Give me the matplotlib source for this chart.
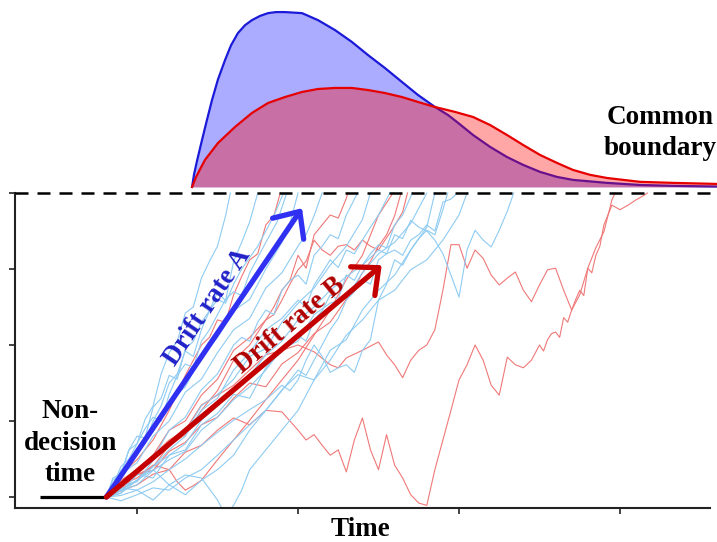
import matplotlib
matplotlib.use("Agg")
import matplotlib.pyplot as plt
import numpy as np

# ---------------- data ----------------
# time axis (arbitrary units, unlabeled ticks at 1..4); evidence axis (start 0, boundary 4)
x_ticks = [1, 2, 3, 4]
y_ticks = [0, 1, 2, 3, 4]
boundary = 4.0
t0 = 0.81            # end of non-decision time (start of accumulation)
ndt_start = 0.40     # left end of the non-decision time bar

# RT densities (relative heights, peak of A = 1)
dens_A_t = [1.342, 1.354, 1.373, 1.404, 1.435, 1.466, 1.503, 1.547, 1.584, 1.627, 1.671, 1.714,
            1.764, 1.814, 1.863, 1.919, 2.025, 2.124, 2.230, 2.335, 2.435, 2.540, 2.646, 2.745,
            2.851, 2.932, 2.988, 3.087, 3.193, 3.298, 3.398, 3.503, 3.609, 3.708, 3.919, 4.124,
            4.329, 4.602]
dens_A = [0.0, 0.07, 0.15, 0.269, 0.385, 0.497, 0.615, 0.726, 0.81, 0.88, 0.925, 0.954,
          0.978, 0.994, 1.0, 1.0, 0.994, 0.954, 0.897, 0.829, 0.754, 0.680, 0.600, 0.526,
          0.457, 0.411, 0.371, 0.297, 0.229, 0.171, 0.126, 0.086, 0.057, 0.040, 0.023, 0.011,
          0.006, 0.002]
dens_B_t = [1.342, 1.366, 1.391, 1.422, 1.503, 1.609, 1.714, 1.814, 1.919, 2.025, 2.124, 2.230,
            2.335, 2.435, 2.540, 2.646, 2.745, 2.851, 2.975, 3.087, 3.193, 3.298, 3.398, 3.503,
            3.609, 3.708, 3.814, 3.919, 4.124, 4.329, 4.602]
dens_B = [0.0, 0.055, 0.10, 0.154, 0.251, 0.343, 0.423, 0.480, 0.514, 0.543, 0.560, 0.566,
          0.566, 0.554, 0.537, 0.514, 0.486, 0.457, 0.429, 0.400, 0.354, 0.297, 0.240, 0.183,
          0.137, 0.097, 0.069, 0.051, 0.029, 0.023, 0.017]
dens_base = 4.08
dens_height = 2.30

# sample paths, condition A (blue)
blue_paths = [
    ([0.81, 0.85, 0.9, 0.95, 1.0, 1.05, 1.1, 1.15, 1.2, 1.25, 1.3, 1.35, 1.4, 1.45, 1.5, 1.55, 1.58],
     [0, 0.22, 0.30, 0.62, 0.70, 1.02, 1.20, 1.62, 1.90, 2.05, 2.42, 2.50, 2.88, 3.10, 3.30, 3.70, 4.0]),
    ([0.81, 0.85, 0.9, 0.95, 1.0, 1.05, 1.1, 1.15, 1.2, 1.25, 1.3, 1.35, 1.4, 1.45, 1.5, 1.55, 1.6,
      1.65, 1.7, 1.75],
     [0, 0.10, 0.32, 0.40, 0.64, 0.72, 1.00, 1.20, 1.50, 1.62, 1.92, 1.85, 2.20, 2.45, 2.70, 2.58,
      3.10, 3.35, 3.62, 4.0]),
    ([0.81, 0.85, 0.9, 0.95, 1.0, 1.05, 1.1, 1.15, 1.2, 1.25, 1.3, 1.35, 1.4, 1.45, 1.5, 1.55, 1.6,
      1.65, 1.7, 1.75, 1.8, 1.85, 1.91],
     [0, 0.25, 0.30, 0.62, 0.80, 0.78, 1.18, 1.30, 1.60, 1.55, 1.95, 2.05, 2.30, 2.45, 2.60, 2.55,
      2.80, 3.00, 3.15, 3.30, 3.50, 3.70, 4.0]),
    ([0.81, 0.85, 0.9, 0.95, 1.0, 1.05, 1.1, 1.15, 1.2, 1.25, 1.3, 1.35, 1.4, 1.45, 1.5, 1.55, 1.6,
      1.65, 1.7, 1.75, 1.8, 1.87, 1.93],
     [0, 0.15, 0.40, 0.50, 0.70, 0.90, 1.05, 1.00, 1.35, 1.60, 1.75, 1.70, 2.05, 2.20, 2.40, 2.60,
      2.70, 2.65, 2.95, 3.15, 3.35, 3.62, 4.0]),
    ([0.81, 0.9, 1.0, 1.1, 1.2, 1.3, 1.4, 1.5, 1.6, 1.7, 1.8, 1.9, 1.95, 2.0],
     [0, 0.35, 0.55, 0.95, 1.25, 1.45, 1.85, 2.10, 2.45, 2.60, 3.00, 3.35, 3.60, 4.0]),
    ([0.81, 0.9, 1.0, 1.1, 1.2, 1.3, 1.4, 1.5, 1.6, 1.7, 1.8, 1.9, 2.0, 2.05, 2.1, 2.15],
     [0, 0.30, 0.45, 0.80, 1.00, 1.38, 1.55, 1.90, 2.20, 2.35, 2.75, 2.95, 3.30, 3.45, 3.70, 4.0]),
    ([0.81, 0.9, 1.0, 1.1, 1.2, 1.3, 1.4, 1.5, 1.6, 1.65, 1.7, 1.75, 1.8, 1.85, 1.9, 1.95, 2.0,
      2.05, 2.1, 2.15, 2.2, 2.25, 2.3, 2.37],
     [0, 0.12, 0.36, 0.50, 0.88, 1.05, 1.41, 1.62, 2.0, 2.10, 2.05, 2.30, 2.46, 2.40, 2.72, 2.85,
      2.92, 2.80, 3.18, 3.30, 3.45, 3.40, 3.71, 4.0]),
    ([0.81, 0.9, 1.0, 1.1, 1.2, 1.3, 1.4, 1.5, 1.6, 1.7, 1.8, 1.9, 2.0, 2.1, 2.2, 2.3, 2.4, 2.45],
     [0, 0.15, 0.20, 0.48, 0.70, 0.85, 1.20, 1.35, 1.55, 1.85, 1.95, 2.30, 2.55, 2.75, 3.05, 3.30,
      3.65, 4.0]),
    ([0.81, 0.9, 1.0, 1.1, 1.2, 1.3, 1.4, 1.5, 1.6, 1.7, 1.8, 1.9, 2.0, 2.05, 2.1, 2.15, 2.2, 2.25,
      2.3, 2.35, 2.4, 2.45, 2.5, 2.57],
     [0, 0.05, 0.22, 0.40, 0.62, 0.80, 1.14, 1.30, 1.67, 1.90, 2.20, 2.35, 2.59, 2.50, 2.79, 2.95,
      3.12, 3.02, 3.25, 3.20, 3.38, 3.55, 3.71, 4.0]),
    ([0.81, 0.9, 1.0, 1.1, 1.2, 1.3, 1.4, 1.5, 1.6, 1.7, 1.8, 1.9, 2.0, 2.05, 2.1, 2.15, 2.2, 2.25,
      2.3, 2.35, 2.4, 2.45, 2.5, 2.55, 2.6, 2.65, 2.71],
     [0, 0.08, 0.16, 0.35, 0.49, 0.60, 0.88, 1.05, 1.28, 1.45, 1.67, 1.95, 2.13, 2.05, 2.33, 2.45,
      2.66, 2.60, 2.92, 2.85, 3.05, 3.20, 3.32, 3.28, 3.58, 3.71, 4.0]),
    ([0.81, 0.9, 1.0, 1.1, 1.2, 1.3, 1.4, 1.5, 1.6, 1.7, 1.8, 1.9, 2.0, 2.1, 2.2, 2.3, 2.4, 2.5,
      2.6, 2.7, 2.8],
     [0, 0.05, 0.30, 0.25, 0.55, 0.62, 0.95, 1.10, 1.35, 1.30, 1.70, 1.95, 2.05, 2.40, 2.55, 2.62,
      2.95, 3.20, 3.35, 3.60, 4.0]),
    ([0.81, 0.9, 1.0, 1.1, 1.2, 1.3, 1.4, 1.5, 1.6, 1.7, 1.8, 1.9, 1.95, 2.0, 2.05, 2.1, 2.15, 2.2,
      2.25, 2.3, 2.35, 2.4, 2.45, 2.5, 2.55, 2.6, 2.65, 2.7, 2.75, 2.8, 2.85, 2.9, 2.93],
     [0, 0.02, 0.09, 0.20, 0.36, 0.50, 0.68, 0.85, 1.01, 1.15, 1.28, 1.47, 1.40, 1.54, 1.80, 2.0,
      1.85, 1.64, 1.70, 1.74, 1.64, 1.93, 2.07, 2.59, 2.80, 3.12, 3.05, 3.25, 3.40, 3.51, 3.45,
      3.78, 4.0]),
    ([0.81, 0.9, 1.0, 1.1, 1.2, 1.3, 1.4, 1.5, 1.6, 1.7, 1.8, 1.9, 2.0, 2.05, 2.1, 2.15, 2.2, 2.25,
      2.3, 2.35, 2.4, 2.45, 2.5, 2.55, 2.6, 2.65, 2.7, 2.75, 2.8, 2.85, 2.9, 2.95, 2.99],
     [0, -0.05, 0.03, 0.12, 0.09, 0.25, 0.36, 0.55, 0.75, 0.95, 1.14, 1.40, 1.67, 1.60, 1.80, 2.00,
      2.20, 2.35, 2.59, 2.70, 2.86, 2.80, 3.12, 3.20, 3.25, 3.18, 3.38, 3.45, 3.58, 3.50, 3.88,
      3.92, 4.0]),
    ([0.81, 0.9, 1.0, 1.1, 1.2, 1.3, 1.4, 1.5, 1.6, 1.7, 1.8, 1.9, 2.0, 2.1, 2.2, 2.3, 2.4, 2.5,
      2.55, 2.6, 2.65, 2.7, 2.75, 2.8, 2.85, 2.9, 2.95, 3.0, 3.05, 3.1, 3.15, 3.2, 3.25, 3.3, 3.34],
     [0, 0.10, 0.22, 0.40, 0.55, 0.70, 1.01, 1.20, 1.41, 1.60, 1.87, 2.05, 2.33, 2.50, 2.72, 2.90,
      3.05, 3.25, 3.20, 3.45, 3.40, 3.64, 3.55, 3.50, 3.38, 3.20, 2.92, 2.63, 3.25, 3.51, 3.38,
      3.29, 3.51, 3.76, 4.0]),
    ([0.81, 0.9, 1.0, 1.1, 1.2, 1.3, 1.4, 1.5, 1.6, 1.7, 1.8, 1.9, 2.0, 2.1, 2.2, 2.3, 2.4, 2.5,
      2.6, 2.7, 2.75, 2.8, 2.85],
     [0, 0.12, 0.09, -0.04, 0.16, 0.03, 0.22, 0.36, 0.55, 0.88, 1.14, 1.41, 1.61, 1.54, 1.93, 2.07,
      2.46, 2.72, 2.92, 3.25, 3.40, 3.55, 4.0]),
    ([0.81, 0.9, 1.0, 1.1, 1.2, 1.3, 1.4, 1.5, 1.55, 1.6, 1.65, 1.7, 1.8, 1.9, 2.0, 2.1, 2.2, 2.3,
      2.4, 2.5, 2.6, 2.7, 2.8, 2.9, 3.0, 3.05],
     [0, 0.09, 0.22, 0.36, 0.16, 0.29, 0.25, -0.04, -0.24, -0.11, 0.09, 0.36, 0.62, 0.88, 1.14,
      1.54, 1.80, 2.13, 2.33, 2.59, 2.72, 2.99, 3.12, 3.38, 3.71, 4.0]),
]

# sample paths, condition B (red)
red_paths = [
    ([0.81, 0.9, 1.0, 1.1, 1.2, 1.3, 1.4, 1.5, 1.6, 1.7, 1.8, 1.9, 2.0, 2.05, 2.1, 2.15, 2.2, 2.25, 2.3,
      2.35, 2.4, 2.45, 2.5, 2.55, 2.6, 2.65, 2.7, 2.75, 2.8, 2.85, 2.9, 2.95, 3.0, 3.05, 3.1, 3.15,
      3.2, 3.25, 3.3, 3.35, 3.4, 3.45, 3.5, 3.525, 3.55, 3.575, 3.6, 3.625, 3.65, 3.675, 3.7, 3.725,
      3.75, 3.775, 3.8, 3.825, 3.85, 3.875, 3.9, 3.95, 4.0, 4.05, 4.1, 4.15, 4.17],
     [0, 0.16, 0.25, 0.42, 0.36, 0.59, 0.68, 0.88, 1.04, 0.95, 1.14, 1.12, 0.88, 0.75, 0.82, 0.68,
      0.55, 0.62, 0.33, 0.75, 1.04, 0.62, 0.36, 0.82, 0.42, 0.25, 0.03, -0.08, -0.11, 0.36, 0.75,
      1.14, 1.54, 1.74, 2.0, 1.80, 1.47, 1.34, 1.84, 1.74, 1.70, 1.80, 2.0, 1.92, 2.07, 2.15, 2.17,
      2.10, 2.36, 2.30, 2.46, 2.60, 2.72, 2.65, 3.01, 2.95, 3.18, 3.30, 3.58, 3.84, 3.78, 3.84,
      3.91, 3.97, 4.0]),
    ([0.81, 0.9, 1.0, 1.1, 1.2, 1.3, 1.4, 1.5, 1.6, 1.7, 1.8, 1.9, 2.0, 2.1, 2.2, 2.25, 2.3, 2.4,
      2.5, 2.55, 2.6, 2.65, 2.7, 2.75, 2.8, 2.85, 2.9, 2.95, 3.0, 3.05, 3.1, 3.15, 3.2, 3.25, 3.3,
      3.35, 3.4, 3.45, 3.5, 3.55, 3.6, 3.65, 3.7, 3.75, 3.8, 3.85, 3.9, 3.95, 3.97],
     [0, 0.22, 0.36, 0.55, 0.75, 0.88, 1.21, 1.34, 1.47, 1.67, 1.87, 1.93, 2.0, 1.91, 1.74, 1.70,
      1.83, 1.93, 2.04, 1.87, 1.74, 1.57, 1.80, 1.93, 2.0, 2.20, 2.72, 3.32, 3.32, 3.01, 3.25, 3.14,
      2.92, 2.79, 2.88, 2.96, 2.72, 2.57, 2.79, 2.99, 3.01, 2.72, 2.46, 2.66, 3.01, 3.28, 3.49,
      3.91, 4.0]),
    ([0.81, 0.9, 1.0, 1.1, 1.2, 1.3, 1.4, 1.5, 1.6, 1.7, 1.8, 1.85, 1.9, 1.95, 2.0, 2.05, 2.1, 2.15,
      2.2, 2.25, 2.3, 2.31],
     [0, 0.20, 0.36, 0.55, 0.88, 1.00, 1.34, 1.55, 1.93, 2.10, 2.33, 2.50, 2.72, 2.85, 3.18, 3.01,
      3.45, 3.58, 3.71, 3.67, 3.93, 4.0]),
    ([0.81, 0.9, 1.0, 1.1, 1.2, 1.3, 1.4, 1.5, 1.6, 1.7, 1.8, 1.85, 1.9, 1.95, 2.0, 2.05, 2.1, 2.15,
      2.2, 2.25, 2.3, 2.35, 2.4, 2.45, 2.5, 2.55, 2.6, 2.65, 2.68],
     [0, 0.12, 0.29, 0.40, 0.68, 0.82, 1.14, 1.40, 1.80, 2.00, 2.33, 2.40, 2.59, 2.80, 2.99, 3.10,
      3.38, 3.25, 3.18, 3.30, 3.32, 3.25, 3.38, 3.30, 3.25, 3.41, 3.57, 3.75, 4.0]),
    ([0.81, 0.9, 1.0, 1.1, 1.2, 1.3, 1.4, 1.45, 1.5, 1.55, 1.6, 1.65, 1.7, 1.75, 1.8, 1.85, 1.89],
     [0, 0.30, 0.49, 0.75, 1.14, 1.60, 2.00, 2.10, 2.33, 2.30, 2.66, 2.90, 3.12, 3.20, 3.58, 3.70,
      4.0]),
    ([0.81, 0.9, 1.0, 1.1, 1.2, 1.25, 1.3, 1.35, 1.4, 1.5, 1.6, 1.7, 1.8, 1.9, 2.0, 2.1, 2.2, 2.3,
      2.4, 2.5, 2.59],
     [0, 0.08, 0.16, 0.30, 0.36, 0.20, 0.09, 0.15, 0.22, 0.49, 0.75, 1.01, 1.28, 1.54, 1.80, 2.13,
      2.46, 2.86, 3.18, 3.71, 4.0]),
    ([0.81, 0.9, 1.0, 1.1, 1.2, 1.3, 1.4, 1.5, 1.6, 1.7, 1.8, 1.9, 2.0, 2.1, 2.2, 2.3, 2.35, 2.4,
      2.45, 2.5, 2.55, 2.6, 2.64],
     [0, 0.10, 0.30, 0.35, 0.60, 0.72, 0.95, 1.05, 1.30, 1.50, 1.45, 1.75, 1.90, 2.15, 2.30, 2.60,
      2.75, 2.95, 3.10, 3.30, 3.45, 3.70, 4.0]),
]

# mean drift arrows (end points)
drift_A_end = (2.025, 3.80)
drift_B_end = (2.52, 3.05)

# ---------------- figure ----------------
FONT = ['Liberation Serif', 'DejaVu Serif']
plt.rcParams['font.family'] = FONT
FS = 19.5

fig = plt.figure(figsize=(7.17, 5.42), dpi=100)
ax = fig.add_axes([15 / 717, 34 / 542, 702 / 717, 508 / 542])
ax.set_xlim(0.2422, 4.6025)
ax.set_ylim(-0.1447, 6.539)

blue_trace = '#8ecbf2'
red_trace = '#f07878'
for t, e in red_paths:
    ax.plot(t, e, color=red_trace, lw=0.8, zorder=2)
for t, e in blue_paths:
    ax.plot(t, e, color=blue_trace, lw=0.8, zorder=2)

# densities
dA = dens_base + np.array(dens_A) * dens_height
dB = dens_base + np.array(dens_B) * dens_height
ax.fill_between(dens_A_t, dens_base, dA, color=(0.0, 0.0, 1.0), alpha=0.33, lw=0, zorder=3)
ax.plot(dens_A_t, dA, color='#1a1ad8', lw=1.6, zorder=3.1, clip_on=False)
ax.fill_between(dens_B_t, dens_base, dB, color=(1.0, 0.0, 0.0), alpha=0.35, lw=0, zorder=3.2)
ax.plot(dens_B_t, dB, color='#e60000', lw=1.6, zorder=3.3, clip_on=False)

# boundary
ax.plot([0.2422, 4.6025], [boundary, boundary], color='black', lw=1.8,
        linestyle=(0, (5.2, 3.6)), zorder=4, clip_on=False)

# non-decision time bar
ax.plot([ndt_start, t0], [0, 0], color='black', lw=2.3, zorder=5, solid_capstyle='butt')

# drift arrows
ax.annotate('', xy=drift_A_end, xytext=(t0, 0),
            arrowprops=dict(arrowstyle='->,head_length=0.5,head_width=0.45', lw=3.8,
                            color='#3030f2', shrinkA=0, shrinkB=0, mutation_scale=30),
            zorder=6)
ax.annotate('', xy=drift_B_end, xytext=(t0, 0),
            arrowprops=dict(arrowstyle='->,head_length=0.5,head_width=0.45', lw=3.8,
                            color='#c40000', shrinkA=0, shrinkB=0, mutation_scale=30),
            zorder=6)

ax.text(1.441, 2.50, 'Drift rate A', rotation=56, rotation_mode='anchor', ha='center', va='center',
        fontsize=FS, fontweight='bold', color='#2020c8', zorder=7)
ax.text(1.95, 2.26, 'Drift rate B', rotation=40, rotation_mode='anchor', ha='center', va='center',
        fontsize=FS, fontweight='bold', color='#b00000', zorder=7)

ax.text(0.584, 0.71, 'Non-\ndecision\ntime', ha='center', va='center', fontsize=FS,
        fontweight='bold', color='black', linespacing=1.36, zorder=7)
ax.text(4.25, 4.79, 'Common\nboundary', ha='center', va='center', fontsize=FS,
        fontweight='bold', color='black', linespacing=1.3, zorder=7, clip_on=False)

ax.set_xlabel('Time', fontsize=FS, fontweight='bold', va='center')
ax.xaxis.set_label_coords((360 - 15) / 702, -22 / 508)

# axes styling
for s in ['top', 'right']:
    ax.spines[s].set_visible(False)
ax.spines['left'].set_bounds(-0.1447, boundary)
ax.spines['bottom'].set_bounds(0.2422, 4.559)
for s in ['left', 'bottom']:
    ax.spines[s].set_linewidth(1.5)
    ax.spines[s].set_color('#222222')
ax.set_xticks(x_ticks)
ax.set_yticks(y_ticks)
ax.set_xticklabels([])
ax.set_yticklabels([])
ax.tick_params(direction='out', length=4, width=1.2, color='#222222')

fig.savefig('out.png', dpi=100)
